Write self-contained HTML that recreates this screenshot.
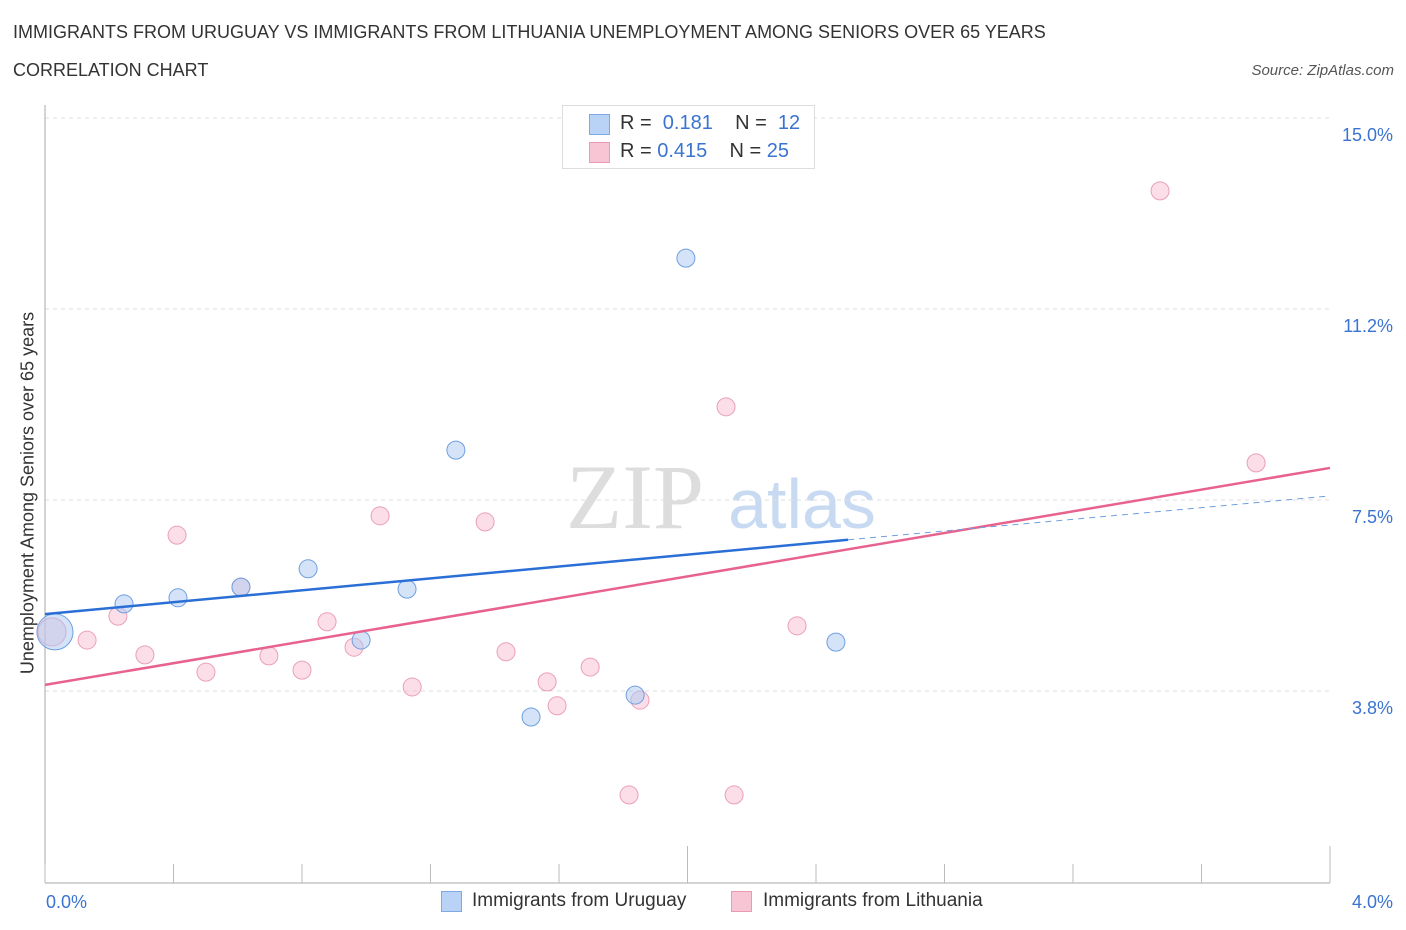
<!DOCTYPE html>
<html><head><meta charset="utf-8"><style>
body{margin:0;background:#fff;font-family:"Liberation Sans",sans-serif;}
#wrap{position:relative;width:1406px;height:930px;overflow:hidden;}
.t{position:absolute;white-space:nowrap;}
</style></head><body>
<div id="wrap">
<div class="t" style="left:13px;top:22px;font-size:18px;color:#333;">IMMIGRANTS FROM URUGUAY VS IMMIGRANTS FROM LITHUANIA UNEMPLOYMENT AMONG SENIORS OVER 65 YEARS</div>
<div class="t" style="left:13px;top:60px;font-size:18px;color:#333;">CORRELATION CHART</div>
<div class="t" style="right:12px;top:62px;font-size:15px;color:#555;font-style:italic;">Source: ZipAtlas.com</div>
<svg id="svg" width="1406" height="930" style="position:absolute;left:0;top:0">
<text x="635" y="528" font-family="Liberation Serif" font-size="92" fill="#ddd" text-anchor="middle">ZIP</text>
<text x="802" y="528" font-family="Liberation Sans" font-size="70" fill="#c8daf2" text-anchor="middle">atlas</text>
</svg>
<div class="t" style="left:28px;top:493px;font-size:18px;color:#333;transform:translate(-50%,-50%) rotate(-90deg);">Unemployment Among Seniors over 65 years</div>
<div style="position:absolute;left:562px;top:105px;width:251px;height:62px;border:1px solid #ddd;background:#fff;"></div>
<div style="position:absolute;left:589px;top:114px;width:19px;height:19px;background:#b9d3f6;border:1px solid #7fa9e3;"></div>
<div style="position:absolute;left:589px;top:142px;width:19px;height:19px;background:#f8c5d4;border:1px solid #ea9bb3;"></div>
<div class="t" style="left:620px;top:112px;font-size:20px;color:#333;">R = &nbsp;<span style="color:#3a73d1">0.181</span>&nbsp;&nbsp;&nbsp; N = &nbsp;<span style="color:#3a73d1">12</span></div>
<div class="t" style="left:620px;top:140px;font-size:20px;color:#333;">R = <span style="color:#3a73d1">0.415</span>&nbsp;&nbsp;&nbsp; N = <span style="color:#3a73d1">25</span></div>
<div style="position:absolute;left:441px;top:891px;width:19px;height:19px;background:#b9d3f6;border:1px solid #7fa9e3;"></div>
<div class="t" style="left:472px;top:890px;font-size:19px;color:#333;">Immigrants from Uruguay</div>
<div style="position:absolute;left:731px;top:891px;width:19px;height:19px;background:#f8c5d4;border:1px solid #ea9bb3;"></div>
<div class="t" style="left:763px;top:890px;font-size:19px;color:#333;">Immigrants from Lithuania</div>
</div>
<script>
const yTicks=[3.75,7.5,11.25,15];
const yTickLabels=["3.8%","7.5%","11.2%","15.0%"];
const xTickLabels=["0.0%","4.0%"];
const uruguayX=[0.031,0.246,0.414,0.610,0.819,0.984,1.127,1.279,1.513,1.837,1.995,2.462];
const uruguayY=[4.91,5.46,5.58,5.79,6.15,4.75,5.75,8.48,3.24,3.67,12.25,4.71];
const uruguayR=[18,9,9,9,9,9,9,9,9,9,9,9];
const lithX=[0.022,0.131,0.227,0.311,0.411,0.501,0.610,0.697,0.800,0.878,0.962,1.043,1.143,1.370,1.435,1.563,1.594,1.697,1.818,1.852,2.120,2.145,2.341,3.471,3.770];
const lithY=[4.91,4.75,5.22,4.46,6.81,4.12,5.79,4.44,4.16,5.11,4.61,7.19,3.83,7.07,4.52,3.93,3.46,4.22,1.71,3.57,9.33,1.71,5.03,13.57,8.23];
const lithR=[14,9,9,9,9,9,9,9,9,9,9,9,9,9,9,9,9,9,9,9,9,9,9,9,9];
const uruguayTrend=[5.26,6.72,7.58]; // at x=0, 2.5, 4.0
const lithTrend=[3.87,8.13]; // at x=0, 4.0
const X=v=>45+v*321.25, Y=v=>882-v*50.93;
const S="http://www.w3.org/2000/svg", svg=document.getElementById('svg');
function mk(t,a){const e=document.createElementNS(S,t);for(const k in a)e.setAttribute(k,a[k]);svg.appendChild(e);return e;}
yTicks.forEach((v,i)=>{
 const g=mk('line',{x1:45,x2:1330,y1:Y(v),y2:Y(v),stroke:'#ddd','stroke-dasharray':'4,4'});
 
 
 const t=mk('text',{x:1393,y:Y(v)+23,'text-anchor':'end','font-size':18,fill:'#3a73d1'});
 t.textContent=yTickLabels[i];
 
 
});
let a=mk('line',{x1:45,x2:45,y1:105,y2:883,stroke:'#aaa'});


a=mk('line',{x1:45,x2:1330,y1:883,y2:883,stroke:'#aaa'});


for(let i=0;i<=10;i++){
 const xv=i*0.4;
 const tk=mk('line',{x1:X(xv),x2:X(xv),y1:(i==5||i==10)?846:864,y2:883,stroke:'#bbb'});
 
 
}
[[0,46,'start'],[4,1393,'end']].forEach((d,i)=>{
 const t=mk('text',{x:d[1],y:908,'text-anchor':d[2],'font-size':18,fill:'#3a73d1'});
 t.textContent=xTickLabels[i];
 
 
});
lithX.forEach((x,i)=>{
 const c=mk('circle',{cx:X(x),cy:Y(lithY[i]),r:lithR[i],fill:'rgba(248,190,208,0.5)',stroke:'#eaa0b8','stroke-width':1});
 
 
});
uruguayX.forEach((x,i)=>{
 const c=mk('circle',{cx:X(x),cy:Y(uruguayY[i]),r:uruguayR[i],fill:'rgba(170,200,242,0.5)',stroke:'#6f9fe0','stroke-width':1});
 
 
});
let l=mk('line',{x1:X(0),y1:Y(lithTrend[0]),x2:X(4),y2:Y(lithTrend[1]),stroke:'#e8628e','stroke-width':2.5});


l=mk('line',{x1:X(0),y1:Y(uruguayTrend[0]),x2:X(2.5),y2:Y(uruguayTrend[1]),stroke:'#2a6fd6','stroke-width':2.5});


l=mk('line',{x1:X(2.5),y1:Y(uruguayTrend[1]),x2:X(4),y2:Y(uruguayTrend[2]),stroke:'#6f9fe0','stroke-width':1,'stroke-dasharray':'6,5'});


</script>
</body></html>
